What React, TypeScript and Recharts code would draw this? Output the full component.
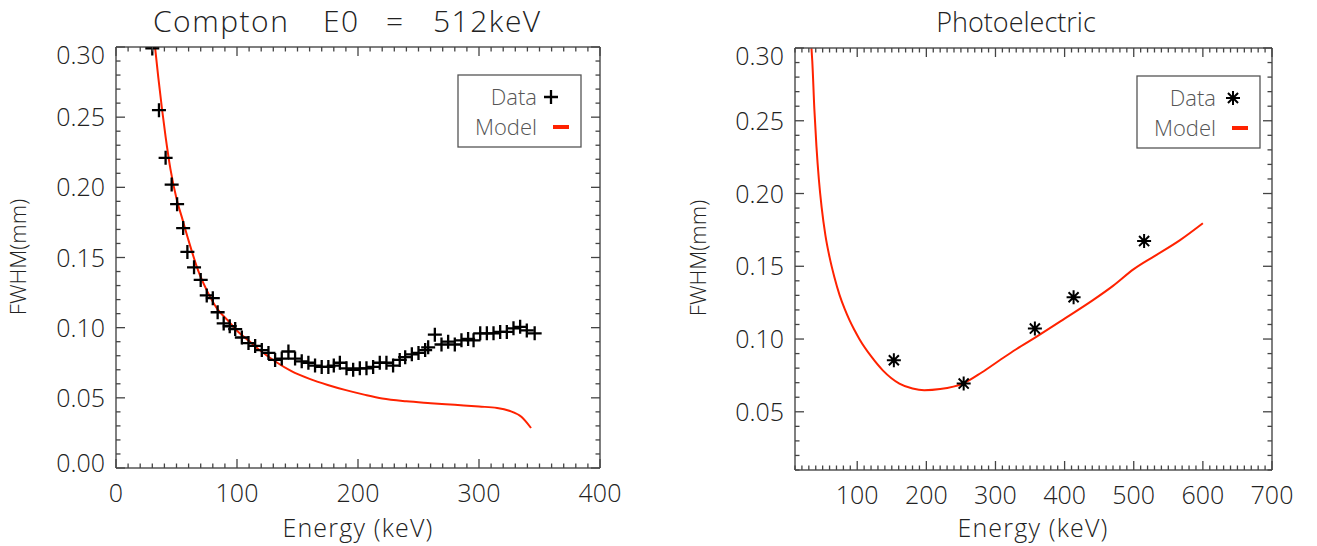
import React from "react";
import { ComposedChart, Line, Scatter, XAxis, YAxis } from "recharts";

const FONT = "'Open Sans', 'DejaVu Sans', sans-serif";
const WEIGHT = 300;
const RED = "#ff2200";
const INK = "#222";
const FRAME = "#555";

// Compton, E0 = 512 keV : measured FWHM (+ markers)
const comptonEnergy = [
  30, 35.5, 41, 46, 50.5, 55.5, 59, 64.5, 70, 75, 80, 84, 89, 94, 98.5, 104,
  109.5, 115, 120.5, 126, 131.5, 137, 142.5, 148, 153.5, 159, 164.5, 170,
  175.5, 180, 185, 190.5, 196, 201.5, 207, 212.5, 218, 223.5, 229, 234.5, 239,
  244.5, 250, 255.5, 258, 263.5, 269, 274.5, 280, 285.5, 291, 295.5, 301,
  306.5, 312, 317.5, 323, 328.5, 334, 339.5, 346,
];
const comptonFwhm = [
  0.299, 0.255, 0.221, 0.202, 0.188, 0.171, 0.154, 0.143, 0.134, 0.123, 0.121,
  0.111, 0.103, 0.101, 0.099, 0.093, 0.089, 0.087, 0.084, 0.082, 0.077, 0.078,
  0.083, 0.078, 0.076, 0.075, 0.073, 0.072, 0.072, 0.073, 0.075, 0.071, 0.07,
  0.071, 0.071, 0.072, 0.075, 0.075, 0.073, 0.077, 0.079, 0.081, 0.082, 0.084,
  0.086, 0.095, 0.088, 0.09, 0.088, 0.091, 0.092, 0.091, 0.096, 0.096, 0.096,
  0.097, 0.097, 0.0995, 0.1006, 0.098, 0.096,
];

// Compton model curve
const comptonModelEnergy = [
  32, 35, 38, 41, 45, 50, 55, 60, 68, 76, 84, 92, 100, 110, 120, 132, 145,
  160, 175, 190, 205, 220, 240, 260, 280, 300, 315, 325, 335, 343,
];
const comptonModelFwhm = [
  0.302, 0.278, 0.256, 0.236, 0.213, 0.192, 0.177, 0.162, 0.1405, 0.125,
  0.113, 0.1055, 0.0978, 0.0905, 0.0832, 0.0757, 0.069, 0.0635, 0.0592,
  0.0555, 0.0523, 0.0495, 0.0475, 0.0462, 0.045, 0.0438, 0.0428, 0.0408,
  0.0365, 0.0285,
];

// Photoelectric : measured FWHM (* markers)
const photoEnergy = [153, 254, 357, 413, 515];
const photoFwhm = [0.0854, 0.0694, 0.1072, 0.1287, 0.1673];

// Photoelectric model curve
const photoModelEnergy = [
  33.8, 35, 38, 41, 44.5, 48.5, 54, 60, 67, 74.5, 82, 89, 96, 103.5, 120, 137,
  161, 180, 197, 220, 253, 280, 306, 330, 359, 400, 441, 470, 500, 530, 567,
  600,
];
const photoModelFwhm = [
  0.3, 0.291, 0.258, 0.2326, 0.2098, 0.1906, 0.1713, 0.1563, 0.1425, 0.1302,
  0.1205, 0.1128, 0.1062, 0.0997, 0.0882, 0.0785, 0.0694, 0.066, 0.0648,
  0.0656, 0.0694, 0.077, 0.0854, 0.093, 0.1015, 0.114, 0.1267, 0.1365, 0.148,
  0.157, 0.168, 0.1796,
];

// tick labels
const comptonXLabels = [0, 100, 200, 300, 400];
const comptonYLabels = [0, 0.05, 0.1, 0.15, 0.2, 0.25, 0.3];
const photoXLabels = [100, 200, 300, 400, 500, 600, 700];
const photoYLabels = [0.05, 0.1, 0.15, 0.2, 0.25, 0.3];

// minor ticks (10 keV, 0.01 mm)
const comptonXTicks = Array.from({ length: 41 }, (_, i) => i * 10);
const comptonYTicks = Array.from({ length: 31 }, (_, i) => +(i * 0.01).toFixed(2));
const photoXTicks = Array.from({ length: 70 }, (_, i) => (i + 1) * 10);
const photoYTicks = Array.from({ length: 30 }, (_, i) => +((i + 1) * 0.01).toFixed(2));

const zip = (xs: number[], ys: number[]) => xs.map((e, i) => ({ e, f: ys[i] }));
const comptonData = zip(comptonEnergy, comptonFwhm);
const comptonModel = zip(comptonModelEnergy, comptonModelFwhm);
const photoData = zip(photoEnergy, photoFwhm);
const photoModel = zip(photoModelEnergy, photoModelFwhm);

type Side = "bottom" | "top" | "left" | "right";

// IDL style ticks: pointing inwards, long for labelled values
const makeTick =
  (side: Side, labels: number[], fmt?: (v: number) => string, edge?: [number, number]) =>
  (props: any) => {
    const x = Number(props.x);
    const y = Number(props.y);
    const v = Number(props.payload.value);
    const major = labels.some((m) => Math.abs(m - v) < 1e-6);
    const len = major ? 9 : 4.5;
    let x2 = x;
    let y2 = y;
    if (side === "bottom") y2 = y - len;
    if (side === "top") y2 = y + len;
    if (side === "left") x2 = x + len;
    if (side === "right") x2 = x - len;
    let label = null;
    if (major && fmt) {
      if (side === "bottom") {
        label = (
          <text x={x} y={y + 34} textAnchor="middle" fontSize={25} fontWeight={WEIGHT} fill={INK} fontFamily={FONT}>
            {fmt(v)}
          </text>
        );
      } else {
        let shift = 0;
        if (edge && Math.abs(v - edge[1]) < 1e-6) shift = 8;
        if (edge && Math.abs(v - edge[0]) < 1e-6) shift = -5;
        label = (
          <text x={x - 11} y={y + 9 + shift} textAnchor="end" fontSize={25} fontWeight={WEIGHT} fill={INK} fontFamily={FONT}>
            {fmt(v)}
          </text>
        );
      }
    }
    return (
      <g>
        <line x1={x} y1={y} x2={x2} y2={y2} stroke="#444" strokeWidth={1.3} />
        {label}
      </g>
    );
  };

const PlusMark = (p: any) => (
  <path
    d={`M${p.cx - 7},${p.cy}H${p.cx + 7}M${p.cx},${p.cy - 7}V${p.cy + 7}`}
    stroke="#000"
    strokeWidth={2.3}
    fill="none"
  />
);

const StarMark = (p: any) => {
  const r = 7;
  const k = r * 0.72;
  const { cx, cy } = p;
  return (
    <path
      d={`M${cx - r},${cy}H${cx + r}M${cx},${cy - r}V${cy + r}M${cx - k},${cy - k}L${cx + k},${cy + k}M${cx - k},${cy + k}L${cx + k},${cy - k}`}
      stroke="#000"
      strokeWidth={2}
      fill="none"
    />
  );
};

const axisLine = { stroke: FRAME, strokeWidth: 1.5 };
const fmtInt = (v: number) => String(v);
const fmt2 = (v: number) => v.toFixed(2);

function LegendBox({ x, y, mark }: { x: number; y: number; mark: "plus" | "star" }) {
  const cx = x + 93;
  return (
    <g>
      <rect x={x} y={y} width={123} height={72} fill="#fff" stroke={FRAME} strokeWidth={1.3} />
      <text x={x + 79} y={y + 30} textAnchor="end" fontSize={22} fontWeight={WEIGHT} fill="#555" fontFamily={FONT}>
        Data
      </text>
      <text x={x + 79} y={y + 60} textAnchor="end" fontSize={22} fontWeight={WEIGHT} fill="#555" fontFamily={FONT}>
        Model
      </text>
      {mark === "plus" ? <PlusMark cx={cx} cy={y + 22} /> : <StarMark cx={cx + 3} cy={y + 22} />}
      <line x1={x + 95} x2={x + 111} y1={y + 52} y2={y + 52} stroke={RED} strokeWidth={4} />
    </g>
  );
}

export default function App() {
  return (
    <div style={{ position: "absolute", left: 0, top: 0, width: 1317, height: 546, background: "#fff" }}>
      <div style={{ position: "absolute", left: 0, top: 0 }}>
        <ComposedChart width={640} height={546} margin={{ top: 46, right: 39, bottom: 28, left: 0 }}>
          <XAxis
            dataKey="e"
            type="number"
            domain={[0, 400]}
            allowDataOverflow
            ticks={comptonXTicks}
            interval={0}
            tickSize={0}
            tickMargin={0}
            tickLine={false}
            height={50}
            axisLine={axisLine}
            tick={makeTick("bottom", comptonXLabels, fmtInt)}
          />
          <XAxis
            xAxisId="top"
            orientation="top"
            dataKey="e"
            type="number"
            domain={[0, 400]}
            allowDataOverflow
            ticks={comptonXTicks}
            interval={0}
            tickSize={0}
            tickMargin={0}
            tickLine={false}
            height={1}
            axisLine={axisLine}
            tick={makeTick("top", comptonXLabels)}
          />
          <YAxis
            type="number"
            domain={[0, 0.3]}
            allowDataOverflow
            ticks={comptonYTicks}
            interval={0}
            tickSize={0}
            tickMargin={0}
            tickLine={false}
            width={116}
            axisLine={axisLine}
            tick={makeTick("left", comptonYLabels, fmt2, [0, 0.3])}
          />
          <YAxis
            yAxisId="r"
            orientation="right"
            type="number"
            domain={[0, 0.3]}
            allowDataOverflow
            ticks={comptonYTicks}
            interval={0}
            tickSize={0}
            tickMargin={0}
            tickLine={false}
            width={1}
            axisLine={axisLine}
            tick={makeTick("right", comptonYLabels)}
          />
          {/* invisible copy so that the top and right frame axes get a scale */}
          <Line
            xAxisId="top"
            yAxisId="r"
            data={comptonModel}
            dataKey="f"
            stroke="none"
            dot={false}
            legendType="none"
            isAnimationActive={false}
          />
          <Line
            data={comptonModel}
            dataKey="f"
            type="monotone"
            stroke={RED}
            strokeWidth={2}
            dot={false}
            isAnimationActive={false}
          />
          <Scatter data={comptonData} dataKey="f" shape={PlusMark} isAnimationActive={false} />
        </ComposedChart>
      </div>

      <div style={{ position: "absolute", left: 640, top: 0 }}>
        <ComposedChart width={677} height={546} margin={{ top: 47, right: 44, bottom: 26, left: 0 }}>
          <XAxis
            dataKey="e"
            type="number"
            domain={[10, 700]}
            allowDataOverflow
            ticks={photoXTicks}
            interval={0}
            tickSize={0}
            tickMargin={0}
            tickLine={false}
            height={50}
            axisLine={axisLine}
            tick={makeTick("bottom", photoXLabels, fmtInt)}
          />
          <XAxis
            xAxisId="top"
            orientation="top"
            dataKey="e"
            type="number"
            domain={[10, 700]}
            allowDataOverflow
            ticks={photoXTicks}
            interval={0}
            tickSize={0}
            tickMargin={0}
            tickLine={false}
            height={1}
            axisLine={axisLine}
            tick={makeTick("top", photoXLabels)}
          />
          <YAxis
            type="number"
            domain={[0.01, 0.3]}
            allowDataOverflow
            ticks={photoYTicks}
            interval={0}
            tickSize={0}
            tickMargin={0}
            tickLine={false}
            width={155}
            axisLine={axisLine}
            tick={makeTick("left", photoYLabels, fmt2, [0.01, 0.3])}
          />
          <YAxis
            yAxisId="r"
            orientation="right"
            type="number"
            domain={[0.01, 0.3]}
            allowDataOverflow
            ticks={photoYTicks}
            interval={0}
            tickSize={0}
            tickMargin={0}
            tickLine={false}
            width={1}
            axisLine={axisLine}
            tick={makeTick("right", photoYLabels)}
          />
          <Line
            xAxisId="top"
            yAxisId="r"
            data={photoModel}
            dataKey="f"
            stroke="none"
            dot={false}
            legendType="none"
            isAnimationActive={false}
          />
          <Line
            data={photoModel}
            dataKey="f"
            type="monotone"
            stroke={RED}
            strokeWidth={2}
            dot={false}
            isAnimationActive={false}
          />
          <Scatter data={photoData} dataKey="f" shape={StarMark} isAnimationActive={false} />
        </ComposedChart>
      </div>

      <svg
        width={1317}
        height={546}
        style={{ position: "absolute", left: 0, top: 0, pointerEvents: "none" }}
        fontFamily={FONT}
        fontWeight={WEIGHT}
      >
        <text y={32} fontSize={30} fill={INK} letterSpacing={1.5}>
          <tspan x={153}>Compton</tspan>
          <tspan x={323}>E0</tspan>
          <tspan x={386}>=</tspan>
          <tspan x={433}>512keV</tspan>
        </text>
        <text x={1016} y={32} textAnchor="middle" fontSize={27} fill={INK}>
          Photoelectric
        </text>
        <text x={358} y={537} textAnchor="middle" fontSize={25} fill={INK} letterSpacing={1.2}>
          Energy (keV)
        </text>
        <text x={1033} y={537} textAnchor="middle" fontSize={25} fill={INK} letterSpacing={1.2}>
          Energy (keV)
        </text>
        <text x={26} y={257} textAnchor="middle" fontSize={22} fill={INK} transform="rotate(-90 26 257)">
          FWHM(mm)
        </text>
        <text x={706} y={258} textAnchor="middle" fontSize={22} fill={INK} transform="rotate(-90 706 258)">
          FWHM(mm)
        </text>
        <LegendBox x={458} y={75} mark="plus" />
        <LegendBox x={1137} y={76} mark="star" />
      </svg>
    </div>
  );
}
